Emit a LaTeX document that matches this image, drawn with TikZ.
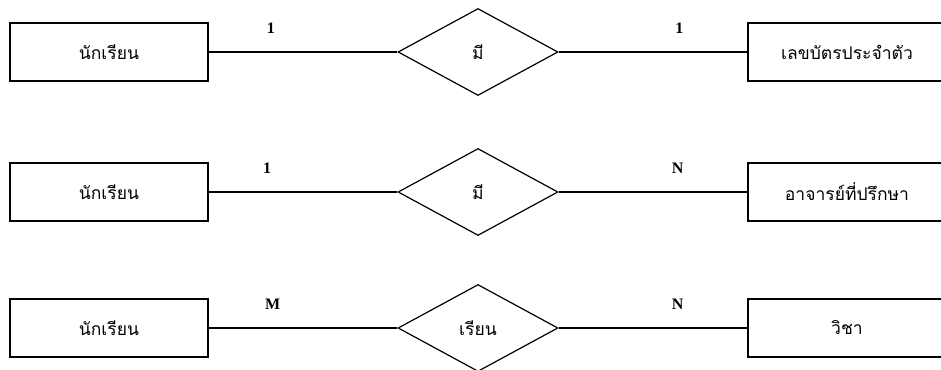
\documentclass[tikz,border=0pt]{standalone}
\usepackage{fontspec}
\setmainfont{Liberation Serif}
\newfontfamily\thaifont[Script=Thai]{Loma}
\usepackage{tikz}
\usetikzlibrary{shapes.geometric}

\tikzset{
  entity/.style = {draw, minimum width=198pt, minimum height=58pt, font=\thaifont\fontsize{17.5}{21}\selectfont},
  relation/.style = {draw, diamond, aspect=1.84, minimum width=160pt, minimum height=87pt, inner sep=0pt, font=\thaifont\fontsize{17.5}{21}\selectfont},
  card/.style = {above=15pt, font=\bfseries\fontsize{16}{19}\selectfont}
}

\begin{document}
\begin{tikzpicture}[x=1pt, y=1pt, line width=1.2pt]
\useasboundingbox (0,0) rectangle (941,369);
\clip (0,0) rectangle (941,369);
% row 1 : 1 to 1
\node [entity] (std1) at (109,317) {นักเรียน};
\node [relation] (has1) at (478,317) {มี};
\node [entity] (card) at (847,317) {เลขบัตรประจำตัว};
\draw (std1) -- node [card, pos=.33] {1} (has1);
\draw (card) -- node [card, pos=.36] {1} (has1);
% row 2 : 1 to N
\node [entity] (std2) at (109,177) {นักเรียน};
\node [relation] (has2) at (478,177) {มี};
\node [entity] (advisor) at (847,177) {อาจารย์ที่ปรึกษา};
\draw (std2) -- node [card, pos=.31] {1} (has2);
\draw (advisor) -- node [card, pos=.37] {N} (has2);
% row 3 : M to N
\node [entity] (std3) at (109,41) {นักเรียน};
\node [relation] (learn) at (478,41) {เรียน};
\node [entity] (subject) at (847,41) {วิชา};
\draw (std3) -- node [card, pos=.34] {M} (learn);
\draw (subject) -- node [card, pos=.37] {N} (learn);
\end{tikzpicture}
\end{document}
